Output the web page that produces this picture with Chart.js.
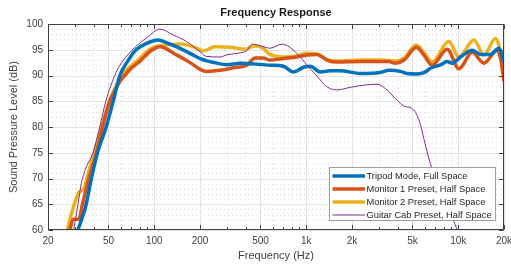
<!DOCTYPE html>
<html>
<head>
<meta charset="utf-8">
<script src="https://cdn.jsdelivr.net/npm/chart.js@4.4.1/dist/chart.umd.min.js"></script>
<style>
  html, body { margin: 0; padding: 0; background: #fff; }
  #wrap { width: 511px; height: 265px; }
</style>
</head>
<body>
<div id="wrap"><canvas id="fr" width="511" height="265"></canvas></div>
<script>
// values (Hz, dB)
const tripodFreq = [31.5, 33.2, 35, 35.8, 38.6, 42.3, 48.3, 53.7, 59.4, 66, 76, 90, 106, 120, 147, 172, 200, 258, 300, 367, 427, 578, 708, 824, 960, 1062, 1236, 1438, 1675, 2270, 3070, 3500, 4160, 4600, 5380, 6000, 6560, 7700, 8460, 9120, 10350, 12360, 14030, 16300, 18500, 20000];
const tripodDb   = [60, 62, 64, 65.2, 70, 75, 80, 85, 90, 92.5, 95, 96.3, 96.9, 96.4, 95.3, 94.3, 93.3, 92.4, 92.1, 92.4, 92.3, 92.0, 91.8, 90.7, 91.6, 91.8, 90.7, 90.9, 90.9, 90.4, 90.6, 91.0, 90.8, 90.4, 90.3, 90.6, 91.4, 92.1, 92.7, 92.4, 93.6, 94.9, 94.1, 94.1, 95.3, 92.7];

const mon1Freq = [27.8, 29.3, 31.9, 33.7, 37.1, 41.7, 45.7, 51, 55, 60, 64, 70, 80, 95, 109, 140, 172, 200, 221, 271, 332, 406, 461, 520, 578, 708, 868, 1010, 1176, 1368, 1592, 2270, 3070, 3500, 3860, 4400, 5300, 6000, 6730, 8460, 10100, 12360, 14750, 18060, 18900, 20000];
const mon1Db   = [60, 62.1, 62.1, 65, 70, 75, 80, 85, 87, 89, 90, 91.3, 92.7, 94.8, 95.6, 94.0, 92.5, 91.2, 90.8, 91.0, 91.5, 92.0, 93.4, 93.4, 93.0, 93.3, 93.6, 94.0, 94.1, 93.0, 92.6, 92.7, 92.7, 92.7, 92.4, 93.0, 95.5, 93.8, 92.0, 95.1, 91.3, 94.5, 92.4, 94.9, 93.5, 89.0];

const mon2Freq = [26.8, 28.2, 31.5, 34.9, 36, 40.2, 45, 50.5, 55, 61, 70, 80, 95, 120, 150, 180, 200, 210, 251, 316, 396, 461, 520, 578, 708, 868, 1010, 1176, 1368, 1592, 2270, 3070, 3860, 4400, 5300, 6100, 6730, 8670, 10100, 12680, 14750, 17600, 20000];
const mon2Db   = [60, 62.6, 67, 68.4, 70, 75, 80, 85, 87.4, 90, 91.8, 93.3, 95.2, 95.9, 96.1, 95.6, 95.0, 94.8, 95.6, 95.5, 95.1, 95.8, 95.3, 94.1, 93.6, 93.8, 94.3, 94.2, 93.1, 92.8, 93.0, 93.0, 92.8, 93.4, 95.9, 94.0, 92.6, 96.6, 93.6, 96.9, 94.0, 97.2, 91.7];

const guitarFreq = [29.5, 31.5, 33.1, 35.8, 39.6, 43.8, 48, 55, 59.4, 67, 76, 90, 109, 133, 163, 200, 221, 271, 300, 367, 406, 440, 520, 578, 692, 868, 1010, 1176, 1368, 1592, 1948, 2512, 2925, 3400, 3960, 4380, 5100, 5640, 5930, 6560, 8040, 9840];
const guitarDb   = [60, 65, 69, 72.3, 75, 80, 85, 90, 92, 94, 95.7, 97.4, 99.0, 97.9, 96.6, 94.6, 93.7, 93.6, 94.0, 94.4, 94.8, 96.1, 95.6, 95.3, 96.1, 94.3, 92.0, 89.9, 87.8, 87.2, 87.7, 88.2, 88.3, 87.2, 85.2, 84.1, 83.3, 80.5, 77.8, 72.9, 66.5, 60];

const seriesNames = ['Tripod Mode, Full Space', 'Monitor 1 Preset, Half Space', 'Monitor 2 Preset, Half Space', 'Guitar Cab Preset, Half Space'];
const seriesColors = ['#0072BD', '#D95319', '#EDB120', '#7E2F8E'];

const xTicks = [20, 50, 100, 200, 500, 1000, 2000, 5000, 10000, 20000];
const xTickLabels = ['20', '50', '100', '200', '500', '1k', '2k', '5k', '10k', '20k'];
const yTicks = [60, 65, 70, 75, 80, 85, 90, 95, 100];

function pairs(fs, ds) {
    return fs.map((f, i) => ({ x: f, y: ds[i] }));
}

// minor grid positions for the log axis (30, 40, 60 ... 9000 etc.)
function logMinors() {
    const out = [];
    [10, 100, 1000, 10000].forEach(dec => {
        for (let k = 1; k <= 9; k++) {
            const v = k * dec;
            if (v > 20 && v < 20000 && !xTicks.includes(v)) out.push(v);
        }
    });
    return out;
}

const FONT = '"Liberation Sans", Arial, Helvetica, sans-serif';

const matlabAxes = {
    id: 'matlabAxes',
    beforeDatasetsDraw(chart) {
        const { ctx, chartArea: a, scales } = chart;
        const xs = scales.x, ys = scales.y;
        ctx.save();
        // minor dotted grid
        ctx.strokeStyle = 'rgba(0,0,0,0.13)';
        ctx.lineWidth = 1;
        ctx.setLineDash([1, 3]);
        logMinors().forEach(v => {
            const px = Math.round(xs.getPixelForValue(v)) + 0.5;
            ctx.beginPath(); ctx.moveTo(px, a.top); ctx.lineTo(px, a.bottom); ctx.stroke();
        });
        for (let d = 61; d < 100; d++) {
            if (d % 5 === 0) continue;
            const py = Math.round(ys.getPixelForValue(d)) + 0.5;
            ctx.beginPath(); ctx.moveTo(a.left, py); ctx.lineTo(a.right, py); ctx.stroke();
        }
        // major grid
        ctx.setLineDash([]);
        ctx.strokeStyle = '#e3e3e3';
        xTicks.forEach(v => {
            const px = Math.round(xs.getPixelForValue(v)) + 0.5;
            ctx.beginPath(); ctx.moveTo(px, a.top); ctx.lineTo(px, a.bottom); ctx.stroke();
        });
        yTicks.forEach(v => {
            const py = Math.round(ys.getPixelForValue(v)) + 0.5;
            ctx.beginPath(); ctx.moveTo(a.left, py); ctx.lineTo(a.right, py); ctx.stroke();
        });
        ctx.restore();
    },
    afterDatasetsDraw(chart) {
        const { ctx, chartArea: a, scales } = chart;
        const xs = scales.x, ys = scales.y;
        ctx.save();
        // box + inward ticks
        ctx.strokeStyle = '#404040';
        ctx.lineWidth = 1;
        const L = Math.round(a.left) + 0.5, R = Math.round(a.right) - 0.5;
        const T = Math.round(a.top) + 0.5, B = Math.round(a.bottom) - 0.5;
        ctx.strokeRect(L, T, R - L, B - T);
        ctx.beginPath();
        xTicks.forEach(v => {
            const px = Math.round(xs.getPixelForValue(v)) + 0.5;
            ctx.moveTo(px, B); ctx.lineTo(px, B - 4.5);
            ctx.moveTo(px, T); ctx.lineTo(px, T + 4.5);
        });
        logMinors().forEach(v => {
            const px = Math.round(xs.getPixelForValue(v)) + 0.5;
            ctx.moveTo(px, B); ctx.lineTo(px, B - 2.5);
            ctx.moveTo(px, T); ctx.lineTo(px, T + 2.5);
        });
        yTicks.forEach(v => {
            const py = Math.round(ys.getPixelForValue(v)) + 0.5;
            ctx.moveTo(L, py); ctx.lineTo(L + 4.5, py);
            ctx.moveTo(R, py); ctx.lineTo(R - 4.5, py);
        });
        ctx.stroke();

        // tick labels
        ctx.fillStyle = '#404040';
        ctx.font = '10px ' + FONT;
        ctx.textAlign = 'center';
        ctx.textBaseline = 'middle';
        xTicks.forEach((v, i) => {
            ctx.fillText(xTickLabels[i], xs.getPixelForValue(v), a.bottom + 11);
        });
        ctx.textAlign = 'right';
        yTicks.forEach(v => {
            ctx.fillText(String(v), a.left - 5, ys.getPixelForValue(v));
        });

        // axis titles
        ctx.font = '11px ' + FONT;
        ctx.textAlign = 'center';
        ctx.fillText('Frequency (Hz)', (a.left + a.right) / 2, a.bottom + 26);
        ctx.save();
        ctx.translate(14, (a.top + a.bottom) / 2);
        ctx.rotate(-Math.PI / 2);
        ctx.fillText('Sound Pressure Level (dB)', 0, 0);
        ctx.restore();

        // title
        ctx.fillStyle = '#1a1a1a';
        ctx.font = 'bold 11px ' + FONT;
        ctx.fillText('Frequency Response', (a.left + a.right) / 2, 13);

        // legend
        const lx = 329.5, ly = 167.5, lw = 166, lh = 53;
        ctx.fillStyle = '#ffffff';
        ctx.fillRect(lx, ly, lw, lh);
        ctx.strokeStyle = '#a0a0a0';
        ctx.strokeRect(lx, ly, lw, lh);
        ctx.font = '9.3px ' + FONT;
        ctx.textAlign = 'left';
        chart.data.datasets.forEach((ds, i) => {
            const y = ly + 8.5 + i * 13;
            ctx.strokeStyle = ds.borderColor;
            ctx.lineWidth = ds.borderWidth;
            ctx.beginPath(); ctx.moveTo(lx + 3, y); ctx.lineTo(lx + 35.5, y); ctx.stroke();
            ctx.fillStyle = '#262626';
            ctx.fillText(ds.label, lx + 37, y + 0.5);
        });
        ctx.restore();
    }
};

const widths = [3.5, 3.5, 3.5, 1];
const orders = [1, 2, 3, 0];
const sets = [
    pairs(tripodFreq, tripodDb),
    pairs(mon1Freq, mon1Db),
    pairs(mon2Freq, mon2Db),
    pairs(guitarFreq, guitarDb)
];

new Chart(document.getElementById('fr'), {
    type: 'line',
    data: {
        datasets: sets.map((d, i) => ({
            label: seriesNames[i],
            data: d,
            borderColor: seriesColors[i],
            backgroundColor: seriesColors[i],
            borderWidth: widths[i],
            pointRadius: 0,
            cubicInterpolationMode: 'monotone',
            order: orders[i],
            borderCapStyle: 'round',
            borderJoinStyle: 'round'
        }))
    },
    options: {
        responsive: false,
        animation: false,
        layout: { padding: { left: 48, right: 7, top: 24, bottom: 35 } },
        plugins: { legend: { display: false }, title: { display: false }, tooltip: { enabled: false } },
        scales: {
            x: { type: 'logarithmic', min: 20, max: 20000, display: false },
            y: { type: 'linear', min: 60, max: 100, display: false }
        }
    },
    plugins: [matlabAxes]
});
</script>
</body>
</html>
